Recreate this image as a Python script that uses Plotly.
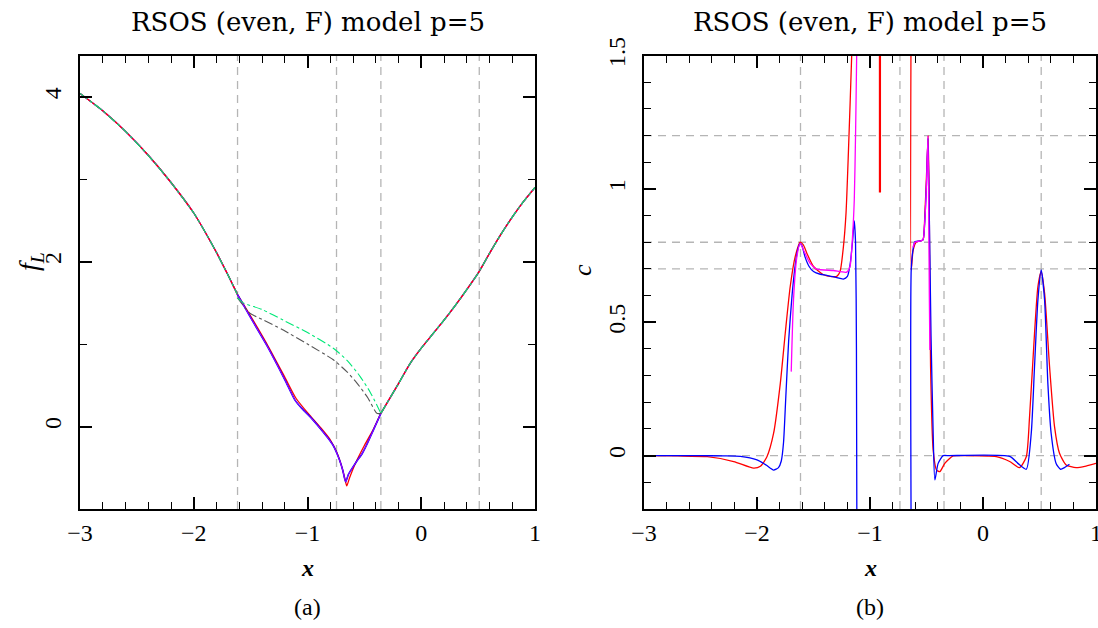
import plotly.graph_objects as go

# ---------------- data: panel (a) f_L ----------------
xa_upper = [-3.0, -2.8, -2.6, -2.4, -2.2, -2.0, -1.9, -1.8, -1.7, -1.615]
ya_upper = [4.04, 3.83, 3.58, 3.29, 2.96, 2.59, 2.36, 2.11, 1.84, 1.60]

xa_right = [-0.355, -0.2, -0.1, 0.0, 0.1, 0.2, 0.3, 0.4, 0.5, 0.6, 0.7, 0.8, 0.9, 1.0]
ya_right = [0.16, 0.52, 0.76, 0.95, 1.12, 1.29, 1.47, 1.66, 1.86, 2.10, 2.33, 2.54, 2.73, 2.90]

xa_blue_mid = [-1.615, -1.5, -1.36, -1.2, -1.11, -1.05, -0.978, -0.89, -0.82, -0.77, -0.72, -0.69,
               -0.665, -0.64, -0.6, -0.567, -0.52, -0.479, -0.42, -0.355]
ya_blue_mid = [1.60, 1.32, 0.99, 0.57, 0.32, 0.22, 0.12, -0.02, -0.14, -0.24, -0.40, -0.53,
               -0.67, -0.58, -0.49, -0.42, -0.33, -0.22, -0.04, 0.16]

xa_red_mid = [-1.615, -1.5, -1.36, -1.2, -1.1, -0.97, -0.88, -0.8, -0.74, -0.7, -0.67, -0.655,
              -0.63, -0.58, -0.5, -0.42, -0.355]
ya_red_mid = [1.60, 1.34, 1.01, 0.60, 0.34, 0.12, -0.02, -0.16, -0.32, -0.48, -0.64, -0.72,
              -0.62, -0.45, -0.23, -0.03, 0.16]

xa_green_mid = [-1.615, -1.565, -1.4, -1.213, -1.0, -0.773, -0.65, -0.537, -0.45, -0.355]
ya_green_mid = [1.56, 1.50, 1.42, 1.29, 1.14, 0.95, 0.80, 0.606, 0.42, 0.16]

xa_gray_mid = [-1.615, -1.507, -1.4, -1.213, -1.0, -0.773, -0.65, -0.567, -0.47, -0.39, -0.355]
ya_gray_mid = [1.56, 1.375, 1.30, 1.17, 1.00, 0.81, 0.66, 0.53, 0.35, 0.16, 0.16]

vlines_a = [-1.615, -0.745, -0.355, 0.51]

# ---------------- data: panel (b) c ----------------
xb_blue1 = [-3.0, -2.5, -2.3, -2.147, -2.0, -1.92, -1.853, -1.81, -1.785, -1.765, -1.745, -1.72,
            -1.69, -1.66, -1.635, -1.618, -1.6, -1.575, -1.54, -1.5, -1.44, -1.382, -1.3,
            -1.236, -1.2, -1.175, -1.155, -1.139, -1.128, -1.12, -1.116]
yb_blue1 = [0.0, 0.0, -0.001, -0.003, -0.016, -0.035, -0.054, -0.045, -0.02, 0.05, 0.22, 0.43,
            0.60, 0.72, 0.78, 0.796, 0.785, 0.745, 0.71, 0.69, 0.68, 0.676, 0.668,
            0.662, 0.672, 0.72, 0.80, 0.88, 0.80, 0.40, -0.30]

xb_red1 = [-3.0, -2.7, -2.44, -2.206, -2.03, -1.97, -1.912, -1.853, -1.794, -1.75, -1.706, -1.662,
           -1.618, -1.59, -1.559, -1.5, -1.412, -1.338, -1.294, -1.265, -1.236, -1.212, -1.19,
           -1.162, -1.15]
yb_red1 = [0.0, -0.001, -0.004, -0.022, -0.047, -0.04, -0.004, 0.084, 0.27, 0.459, 0.634, 0.746,
           0.80, 0.79, 0.759, 0.709, 0.678, 0.671, 0.672, 0.69, 0.78, 0.91, 1.15,
           1.5, 1.7]

xb_mag1 = [-1.697, -1.677, -1.647, -1.618, -1.589, -1.53, -1.47, -1.324, -1.206, -1.177, -1.153,
           -1.139, -1.128, -1.118, -1.114]
yb_mag1 = [0.315, 0.584, 0.746, 0.796, 0.771, 0.721, 0.699, 0.694, 0.688, 0.709, 0.834,
           0.96, 1.2, 1.5, 1.7]

xb_red_bar = [-0.912, -0.912]
yb_red_bar = [1.7, 0.986]

xb_red2 = [-0.636, -0.635, -0.618, -0.588, -0.55, -0.53, -0.515, -0.5, -0.485, -0.475, -0.464,
           -0.441, -0.411, -0.382, -0.338, -0.265, -0.2, 0.118, 0.236, 0.324, 0.383, 0.412,
           0.456, 0.486, 0.515, 0.545, 0.589, 0.633, 0.677, 0.736, 0.824, 0.912, 1.0]
yb_red2 = [1.7, 0.696, 0.771, 0.802, 0.805, 0.81, 0.90, 1.05, 1.2, 0.9, 0.334,
           0.021, -0.054, -0.06, -0.029, -0.001, 0.0, -0.004, -0.022, -0.045, -0.004, 0.146,
           0.459, 0.634, 0.69, 0.609, 0.334, 0.109, 0.009, -0.035, -0.045, -0.039, -0.029]

xb_blue2 = [-0.636, -0.635, -0.62, -0.603, -0.55, -0.53, -0.515, -0.5, -0.487, -0.475, -0.46,
            -0.441, -0.426, -0.397, -0.353, -0.3, 0.236, 0.309, 0.383, 0.427, 0.456, 0.486,
            0.515, 0.545, 0.574, 0.603, 0.647, 0.686, 0.72, 0.765]
yb_blue2 = [-0.3, 0.70, 0.77, 0.802, 0.805, 0.81, 0.88, 1.02, 1.19, 0.9, 0.45,
            0.084, -0.091, -0.029, 0.0, 0.0, -0.003, -0.029, -0.051, 0.084, 0.334, 0.584,
            0.696, 0.584, 0.271, 0.084, -0.029, -0.051, -0.045, -0.032]

xb_mag2 = [-0.62, -0.603, -0.55, -0.53, -0.515, -0.5, -0.487, -0.48, -0.475, -0.47]
yb_mag2 = [0.78, 0.80, 0.805, 0.81, 0.88, 1.02, 1.2, 0.9, 0.6, 0.396]

vlines_b = [-1.615, -0.735, -0.345, 0.515]
hlines_b = [1.2, 0.8, 0.7, 0.0]

# ---------------- figure ----------------
W, H = 1098, 628
fig = go.Figure()

def add(x, y, color, xa, ya, dash="solid", width=1.3, shape="spline"):
    fig.add_trace(go.Scatter(x=x, y=y, mode="lines", xaxis=xa, yaxis=ya,
                             line=dict(color=color, width=width, dash=dash, shape=shape,
                                       smoothing=0.6),
                             showlegend=False, hoverinfo="skip"))

GREEN = "#00e878"
GRAY = "#555555"

# panel (a)
for xs, ys in [(xa_upper, ya_upper), (xa_right, ya_right)]:
    add(xs, ys, "#0000ff", "x", "y")
    add(xs, ys, "#ff00ff", "x", "y")
    add(xs, ys, "#ff0000", "x", "y")
    add(xs, ys, GRAY, "x", "y", dash="dashdot", width=1.1)
    add(xs, ys, GREEN, "x", "y", dash="dashdot", width=1.1)
add(xa_red_mid, ya_red_mid, "#ff0000", "x", "y", width=1.3)
add(xa_blue_mid, ya_blue_mid, "#0000ff", "x", "y", width=1.6)
add(xa_blue_mid, ya_blue_mid, "#b000ff", "x", "y", width=1.0)
add(xa_gray_mid, ya_gray_mid, GRAY, "x", "y", dash="dashdot", width=1.1)
add(xa_green_mid, ya_green_mid, GREEN, "x", "y", dash="dashdot", width=1.1)

# panel (b)
add(xb_red1, yb_red1, "#ff0000", "x2", "y2")
add(xb_blue1, yb_blue1, "#0000ff", "x2", "y2")
add(xb_mag1, yb_mag1, "#ff00ff", "x2", "y2")
add(xb_red_bar, yb_red_bar, "#ff0000", "x2", "y2", width=2.2, shape="linear")
add(xb_red2, yb_red2, "#ff0000", "x2", "y2")
add(xb_blue2, yb_blue2, "#0000ff", "x2", "y2")
add(xb_mag2, yb_mag2, "#ff00ff", "x2", "y2")

shapes = []
dash_style = dict(color="#b5b5b5", width=1.3, dash="8px,6px")
for v in vlines_a:
    shapes.append(dict(type="line", xref="x", yref="y domain", x0=v, x1=v, y0=0, y1=1,
                       line=dash_style, layer="below"))
for v in vlines_b:
    shapes.append(dict(type="line", xref="x2", yref="y2 domain", x0=v, x1=v, y0=0, y1=1,
                       line=dash_style, layer="below"))
for h in hlines_b:
    shapes.append(dict(type="line", xref="x2 domain", yref="y2", x0=0, x1=1, y0=h, y1=h,
                       line=dash_style, layer="below"))

TICKFONT = dict(family="Liberation Serif", size=24, color="black")

def xax(domain, anchor):
    return dict(domain=domain, anchor=anchor, range=[-3, 1], dtick=1, tick0=0,
                automargin=False, ticklabeloverflow="allow",
                showline=True, linecolor="black", linewidth=2, mirror="allticks",
                ticks="inside", ticklen=12, tickwidth=1.5, tickcolor="black",
                minor=dict(ticks="inside", ticklen=7, dtick=0.2, tickwidth=1.2,
                           tickcolor="black", showgrid=False),
                ticklabelstandoff=1,
                showgrid=False, zeroline=False, tickfont=TICKFONT)

def yax(domain, anchor, rng, mdt, tv):
    return dict(domain=domain, anchor=anchor, range=rng, automargin=False,
                ticklabeloverflow="allow",
                tickvals=tv, ticktext=[("%g" % t) for t in tv],
                showline=True, linecolor="black", linewidth=2, mirror="allticks",
                ticks="inside", ticklen=12, tickwidth=1.5, tickcolor="black",
                minor=dict(ticks="inside", ticklen=7, dtick=mdt, tick0=0, tickwidth=1.2,
                           tickcolor="black", showgrid=False),
                ticklabelstandoff=7,
                showgrid=False, zeroline=False, tickfont=TICKFONT, tickangle=-90)

ydom = [1 - 509 / H, 1 - 55.5 / H]
fig.update_layout(
    width=W, height=H, margin=dict(l=0, r=0, t=0, b=0, pad=0), autosize=False,
    paper_bgcolor="white", plot_bgcolor="white",
    xaxis=xax([80 / W, 535 / W], "y"),
    yaxis=yax(ydom, "x", [-1, 4.5], 1, [0, 2, 4]),
    xaxis2=xax([644 / W, 1096 / W], "y2"),
    yaxis2=yax(ydom, "x2", [-0.2, 1.5], 0.1, [0, 0.5, 1, 1.5]),
    shapes=shapes,
)

ann = []
def A(text, px, py, size, family="Liberation Serif", angle=0):
    ann.append(dict(text=text, x=px / W, y=1 - py / H, xref="paper", yref="paper",
                    showarrow=False, textangle=angle, xanchor="center", yanchor="middle",
                    font=dict(family=family, size=size, color="black")))

A("RSOS (even, F) model p=5", 307.5, 22, 26, family="DejaVu Serif")
A("RSOS (even, F) model p=5", 870, 22, 26, family="DejaVu Serif")
A("<b><i>x</i></b>", 307.5, 568, 24)
A("<b><i>x</i></b>", 870, 568, 24)
A("(a)", 307.5, 607, 24)
A("(b)", 870, 607, 24)
A("<i>f</i><sub><i>L</i></sub>", 30, 262, 28, angle=-90)
A("<i>c</i>", 582, 270, 26, angle=-90)
fig.update_layout(annotations=ann)

fig.write_html("out.html", post_script="document.body.style.margin='0';document.body.style.padding='0';")
